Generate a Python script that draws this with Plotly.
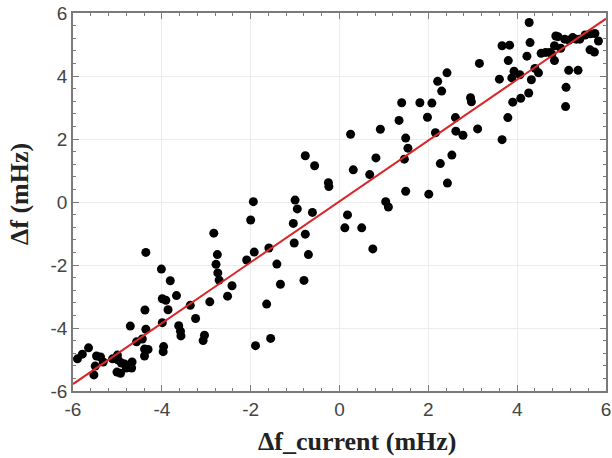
import plotly.graph_objects as go

# Scatter data: Δf_current (x) vs Δf (y), in mHz
x_current = [
    -5.90, -5.79, -5.65, -5.53, -5.50, -5.47, -5.38, -5.32, -5.11, -5.00,
    -4.98, -4.91, -5.01, -4.93, -4.84, -4.80, -4.73, -4.67, -4.68,
    -4.71, -4.57, -4.44, -4.39, -4.31, -4.39, -4.38, -4.36, -4.36, -4.01,
    -3.81, -3.99, -3.91, -3.86, -3.67, -3.99, -3.96, -3.97, -3.62, -3.58,
    -3.57, -3.36, -3.24, -3.04, -3.07, -2.92, -2.83, -2.75, -2.78, -2.74,
    -2.71, -2.52, -2.42, -2.09, -1.94, -2.00, -1.92, -1.89, -1.64, -1.59,
    -1.55, -1.41, -1.33, -1.04, -1.02, -1.00, -0.95, -0.80, -0.77, -0.77,
    -0.70, -0.61, -0.56, -0.25, -0.24, 0.12, 0.18, 0.25, 0.31, 0.50,
    0.68, 0.75, 0.82, 0.92, 1.04, 1.10, 1.34, 1.40, 1.46, 1.49,
    1.49, 1.54, 1.81, 1.98, 2.01, 2.08, 2.16, 2.21, 2.27, 2.30,
    2.42, 2.43, 2.53, 2.61, 2.62, 2.78, 2.95, 2.97, 3.11, 3.15,
    3.60, 3.66, 3.66, 3.79, 3.80, 3.83, 3.88, 3.90, 3.93, 4.06,
    4.08, 4.22, 4.26, 4.27, 4.29, 4.32, 4.40, 4.48, 4.54, 4.64,
    4.73, 4.78, 4.84, 4.84, 4.87, 4.92, 4.98, 5.07, 5.09, 5.10,
    5.16, 5.17, 5.25, 5.33, 5.37, 5.41, 5.53, 5.65, 5.64, 5.75,
    5.74, 5.83,
]
y_measured = [
    -4.98, -4.83, -4.63, -5.49, -5.21, -4.89, -4.92, -5.08, -4.98, -4.86,
    -5.02, -5.11, -5.40, -5.44, -5.14, -5.27, -5.24, -5.08, -5.27,
    -3.94, -4.44, -4.35, -4.67, -4.68, -4.89, -3.43, -4.04, -1.60, -2.13,
    -2.50, -3.07, -3.12, -3.42, -2.97, -3.83, -4.59, -4.75, -3.93, -4.10,
    -4.25, -3.28, -3.70, -4.23, -4.40, -3.17, -0.99, -1.67, -1.98, -2.25,
    -2.48, -2.99, -2.66, -1.84, 0.01, -0.57, -1.59, -4.56, -3.24, -1.46,
    -4.33, -1.97, -2.61, -0.68, -1.30, 0.06, -0.22, -2.49, -1.02, 1.47,
    -1.67, -0.33, 1.15, 0.61, 0.49, -0.82, -0.41, 2.15, 1.02, -0.82,
    0.87, -1.49, 1.40, 2.31, 0.01, -0.16, 2.59, 3.15, 1.36, 2.03,
    0.34, 1.71, 3.15, 2.69, 0.25, 3.14, 2.20, 3.83, 1.22, 3.52,
    4.10, 0.60, 1.49, 2.68, 2.25, 2.12, 3.31, 3.18, 2.32, 4.40,
    3.90, 4.96, 1.98, 2.68, 4.49, 4.98, 3.94, 3.17, 4.15, 4.04,
    3.29, 4.63, 3.46, 5.70, 5.06, 3.88, 4.24, 4.10, 4.72, 4.75,
    4.75, 4.70, 4.96, 4.49, 5.27, 5.25, 4.88, 5.17, 3.03, 3.64,
    4.18, 5.14, 5.22, 5.17, 4.18, 5.17, 5.30, 5.34, 4.83, 5.35,
    4.76, 5.11,
]

# Fitted line endpoints
fit_x = [-6, 6]
fit_y = [-5.78, 5.82]

x_ticks = [-6, -4, -2, 0, 2, 4, 6]
y_ticks = [-6, -4, -2, 0, 2, 4, 6]

x_title = "Δf_current (mHz)"
y_title = "Δf (mHz)"

fig = go.Figure()
fig.add_trace(go.Scatter(
    x=x_current, y=y_measured, mode="markers",
    marker=dict(color="black", size=9, line=dict(width=0)),
    showlegend=False, cliponaxis=False,
))
fig.add_trace(go.Scatter(
    x=fit_x, y=fit_y, mode="lines",
    line=dict(color="#d9262a", width=2),
    showlegend=False,
))

axis_common = dict(
    range=[-6, 6],
    automargin=False,
    showline=True, linecolor="#7a7a7a", linewidth=1.5,
    mirror="ticks", ticks="inside", ticklen=6, tickcolor="#7a7a7a",
    showgrid=True, gridcolor="#ececec", gridwidth=1,
    zeroline=False,
    ticklabeloverflow="allow",
    tickfont=dict(family="Liberation Sans, Arial, sans-serif", size=19, color="#444444"),
    minor=dict(dtick=0.4, ticks="inside", ticklen=3, tickcolor="#7a7a7a", showgrid=False),
)

title_font = dict(family="Liberation Serif, Times New Roman, serif",
                  size=26, color="#222222", weight="bold")

fig.update_layout(
    width=612, height=458,
    margin=dict(l=73, r=6, t=13, b=67),
    paper_bgcolor="white", plot_bgcolor="white",
    xaxis=dict(axis_common, tickvals=x_ticks, ticktext=[str(v) for v in x_ticks]),
    yaxis=dict(axis_common, tickvals=y_ticks, ticktext=[str(v) for v in y_ticks]),
    annotations=[
        dict(text=x_title, xref="paper", yref="paper", x=0.533, y=0,
             xanchor="center", yanchor="middle", yshift=-50, borderpad=0,
             showarrow=False, font=title_font),
        dict(text=y_title, xref="paper", yref="paper", x=0, y=0.521,
             xanchor="center", yanchor="middle", xshift=-54, textangle=-90,
             borderpad=0, showarrow=False, font=title_font),
    ],
)

# Remove the browser's default 8px body margin so the figure fills the window.
fig.write_html("out.html", config={"displayModeBar": False},
               post_script="document.body.style.margin='0px';")
